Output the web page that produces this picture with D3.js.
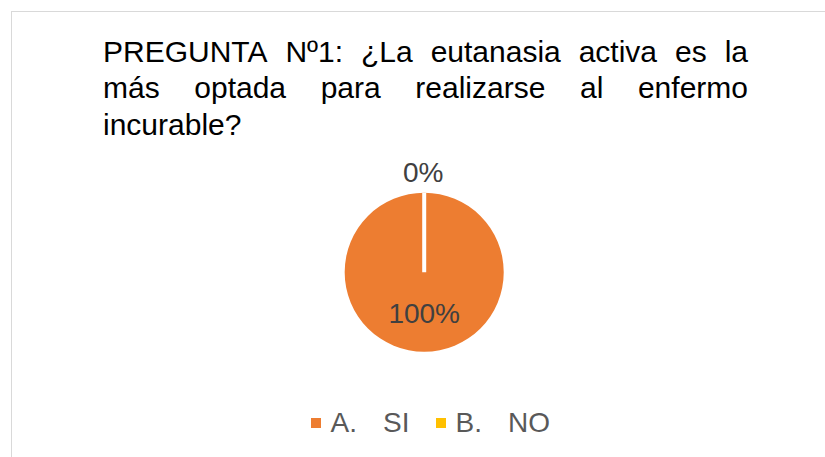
<!DOCTYPE html>
<html><head><meta charset="utf-8">
<script src="https://cdn.jsdelivr.net/npm/d3@7"></script>
<style>html,body{margin:0;padding:0;background:#fff;}svg{display:block;}</style>
</head><body>
<svg id="chart" width="825" height="457"></svg>
<script>
const categories = ["A.\u2003SI", "B.\u2003NO"];
const legendLetters = ["A.", "B."];
const legendNames = ["SI", "NO"];
const values = [100, 0];
const labels = ["100%", "0%"];
const colors = ["#ED7D31", "#FFC000"];
const titleLines = [
  "PREGUNTA Nº1: ¿La eutanasia activa es la",
  "más optada para realizarse al enfermo",
  "incurable?"
];

const svg = d3.select("#chart");
const font = "'Liberation Sans', Arial, sans-serif";

// chart area border
svg.append("rect").attr("x", 11.5).attr("y", 11.5).attr("width", 830).attr("height", 460)
  .attr("fill", "#fff").attr("stroke", "#d9d9d9").attr("stroke-width", 1);

// Title (justified)
const tx0 = 103, tx1 = 748, ty0 = 61.5, lh = 36.7;
titleLines.forEach((line, i) => {
  const y = ty0 + i * lh;
  const justify = i < titleLines.length - 1;
  if (!justify) {
    svg.append("text").attr("x", tx0).attr("y", y).attr("font-family", font)
      .attr("font-size", 30).attr("fill", "#000").text(line);
    return;
  }
  const words = line.split(" ");
  const nodes = words.map(w => svg.append("text").attr("y", y).attr("font-family", font)
    .attr("font-size", 30).attr("fill", "#000").text(w));
  const widths = nodes.map(n => n.node().getComputedTextLength());
  const total = d3.sum(widths);
  const gap = (tx1 - tx0 - total) / (words.length - 1);
  let x = tx0;
  nodes.forEach((n, j) => { n.attr("x", x); x += widths[j] + gap; });
});

// Pie
const cx = 424.2, cy = 272.2, r = 79.5;
const pie = d3.pie().sort(null).startAngle(0).endAngle(2 * Math.PI);
const arcs = pie(values);
const arc = d3.arc().innerRadius(0).outerRadius(r);
const g = svg.append("g").attr("transform", `translate(${cx},${cy})`);
g.selectAll("path.slice").data(arcs).join("path")
  .attr("class", "slice")
  .attr("d", arc)
  .attr("fill", (d, i) => colors[i])
  .attr("stroke", "#fff")
  .attr("stroke-width", (d, i) => values[i] === 0 ? 4 : 0);

// data labels
const labelPos = [[0, 51], [-1, -90]];
g.selectAll("text.lbl").data(arcs).join("text")
  .attr("class", "lbl")
  .attr("x", (d, i) => labelPos[i][0])
  .attr("y", (d, i) => labelPos[i][1])
  .attr("text-anchor", "middle")
  .attr("font-family", font).attr("font-size", 28).attr("fill", "#404040")
  .text((d, i) => labels[i]);

// Legend
const legend = svg.append("g");
const legendX = [311, 436];
categories.forEach((c, i) => {
  const lg = legend.append("g").attr("transform", `translate(${legendX[i]},418)`);
  lg.append("rect").attr("width", 10).attr("height", 10).attr("fill", colors[i]);
  lg.append("text").attr("x", 19.5).attr("y", 14.3).attr("font-family", font)
    .attr("font-size", 28).attr("fill", "#595959").text(legendLetters[i]);
  lg.append("text").attr("x", i === 0 ? 72 : 72).attr("y", 14.3).attr("font-family", font)
    .attr("font-size", 28).attr("fill", "#595959").text(legendNames[i]);
});
</script>
</body></html>
